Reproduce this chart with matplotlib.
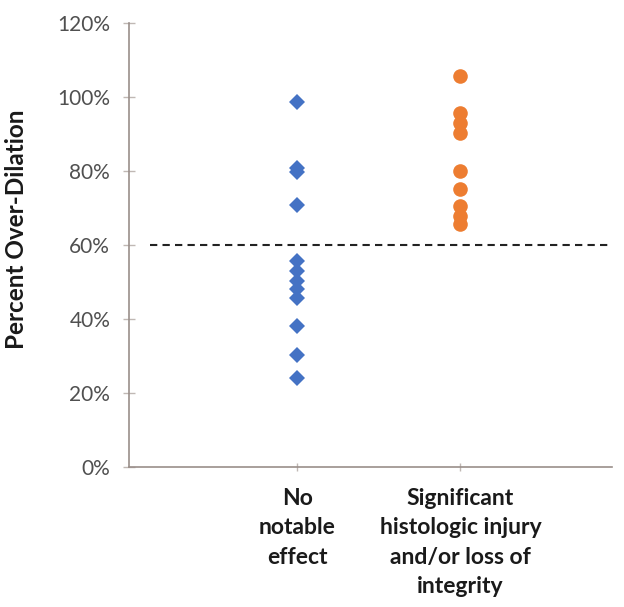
import numpy as np
import matplotlib as mpl
import matplotlib.pyplot as plt
from matplotlib.ticker import PercentFormatter

mpl.rcParams['font.family'] = ['Lato', 'DejaVu Sans']

# categories and readings (fraction over-dilation)
categories = ['No\nnotable\neffect',
              'Significant\nhistologic injury\nand/or loss of\nintegrity']
no_effect = [0.987, 0.809, 0.798, 0.709, 0.558, 0.531, 0.504, 0.482,
             0.458, 0.380, 0.302, 0.240]
injury = [1.057, 0.958, 0.931, 0.904, 0.800, 0.751, 0.706, 0.679, 0.657]
threshold = 0.60
yticks = [0, 0.2, 0.4, 0.6, 0.8, 1.0, 1.2]

fig = plt.figure(figsize=(6.24, 6.07), dpi=100)
ax = fig.add_axes([0.2067, 0.2306, 0.7744, 0.7314])

ax.plot(np.full(len(no_effect), 1), no_effect, 'D', color='#4472C4',
        markersize=8, markeredgewidth=0)
ax.plot(np.full(len(injury), 2), injury, 'o', color='#ED7D31',
        markersize=10.5, markeredgewidth=0)

ax.plot([0.1, 2.93], [threshold, threshold], color='#222222',
        linestyle=(0, (3.5, 2.5)), linewidth=1.5)

ax.set_xlim(-0.03, 2.93)
ax.set_ylim(0, 1.2)
ax.set_yticks(yticks)
ax.yaxis.set_major_formatter(PercentFormatter(1.0, decimals=0))
ax.set_xticks([1, 2])
ax.set_xticklabels(categories, fontsize=16.5, fontweight='bold',
                   color='#1a1a1a', linespacing=1.5, va='top')

for s in ['top', 'right']:
    ax.spines[s].set_visible(False)
for s in ['left', 'bottom']:
    ax.spines[s].set_color('#9a8f8a')
    ax.spines[s].set_linewidth(1.2)

ax.tick_params(axis='y', direction='inout', length=9, width=1,
               color='#c0b8b4', labelsize=15, labelcolor='#505050', pad=9)
ax.tick_params(axis='x', direction='inout', length=6, width=1,
               color='#c0b8b4', pad=12)

ax.set_ylabel('Percent Over-Dilation', fontsize=17.5, fontweight='bold',
              color='#1a1a1a')
ax.yaxis.set_label_coords(-0.208, 0.535)

fig.savefig('out.png', dpi=100, facecolor='white')
